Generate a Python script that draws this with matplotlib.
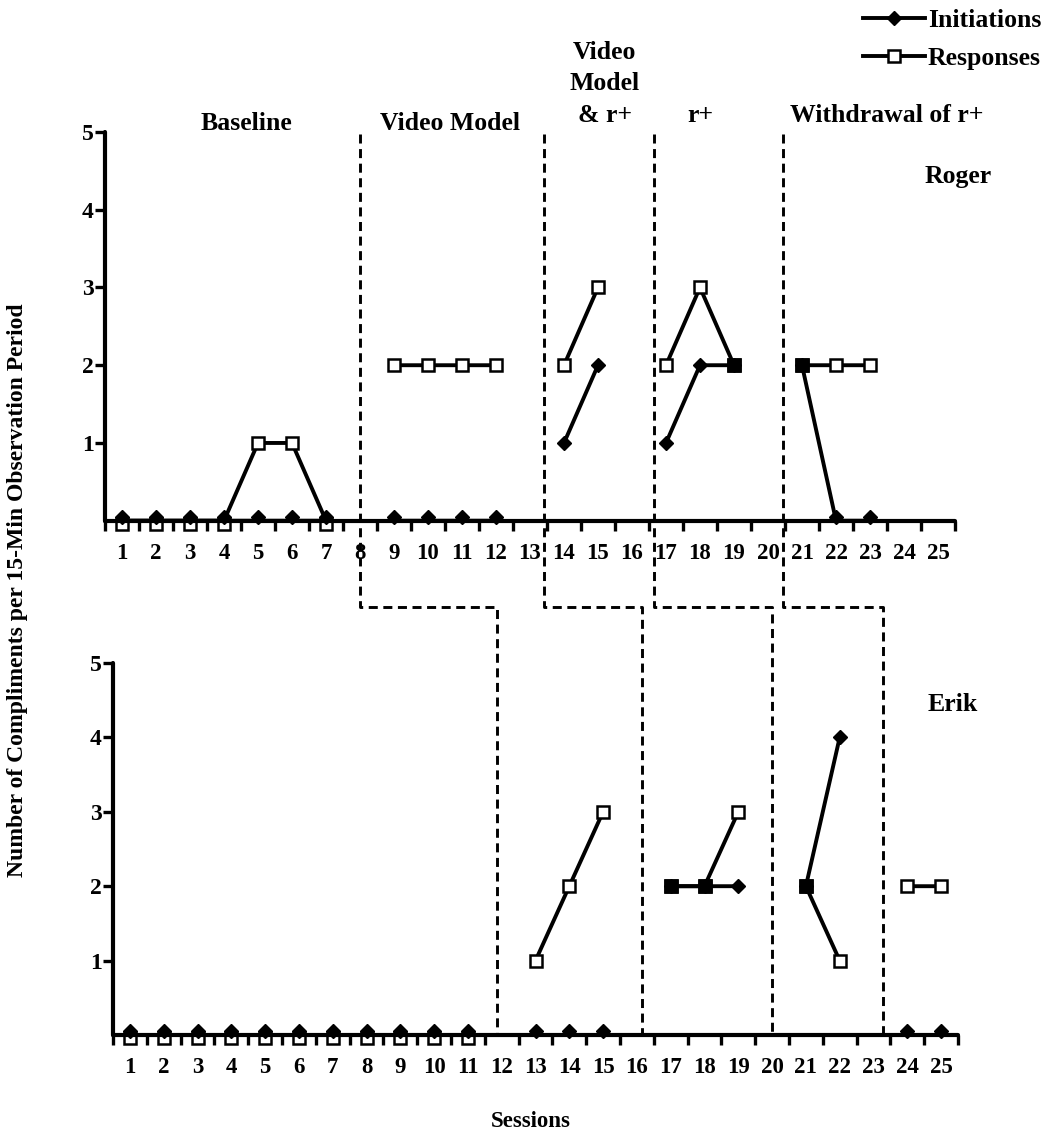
import numpy as np
import matplotlib
matplotlib.use("Agg")
import matplotlib.pyplot as plt
from matplotlib.lines import Line2D
from matplotlib.transforms import ScaledTranslation

plt.rcParams['font.family'] = ['Liberation Serif', 'DejaVu Serif']
plt.rcParams['font.weight'] = 'bold'
plt.rcParams['lines.scale_dashes'] = False

nan = np.nan
sessions = np.arange(1, 26)
session_labels = [str(s) for s in sessions]
y_ticks = [1, 2, 3, 4, 5]

roger_initiations = [0, 0, 0, 0, 0, 0, 0, nan, 0, 0, 0, 0, nan, 1, 2, nan,
                     1, 2, 2, nan, 2, 0, 0, nan, nan]
roger_responses = [0, 0, 0, 0, 1, 1, 0, nan, 2, 2, 2, 2, nan, 2, 3, nan,
                   2, 3, 2, nan, 2, 2, 2, nan, nan]
erik_initiations = [0, 0, 0, 0, 0, 0, 0, 0, 0, 0, 0, nan, 0, 0, 0, nan,
                    2, 2, 2, nan, 2, 4, nan, 0, 0]
erik_responses = [0, 0, 0, 0, 0, 0, 0, 0, 0, 0, 0, nan, 1, 2, 3, nan,
                  2, 2, 3, nan, 2, 1, nan, 2, 2]

roger_phase_changes = [8.0, 13.4, 16.65, 20.45]
erik_phase_changes = [11.87, 16.15, 20.0, 23.28]

phase_labels = ['Baseline', 'Video Model', 'Video\nModel\n& r+', 'r+', 'Withdrawal of r+']
series_names = ['Initiations', 'Responses']
participants = ['Roger', 'Erik']

W, H = 1046, 1131
fig = plt.figure(figsize=(W / 100, H / 100), dpi=100)
ax_top = fig.add_axes([105 / W, 1 - 520.7 / H, 850 / W, (520.7 - 132) / H])
ax_bot = fig.add_axes([113 / W, 1 - 1035 / H, 845 / W, (1035 - 663) / H])

LW = 2.8
SQ = dict(marker='s', ms=9, mfc='white', mec='black', mew=1.8)
DI = dict(marker='D', ms=7.5, mfc='black', mec='black', mew=1.0)


def style(ax):
    ax.set_xlim(0.5, 25.5)
    ax.set_ylim(0, 5)
    for s in ['top', 'right']:
        ax.spines[s].set_visible(False)
    for s in ['left', 'bottom']:
        ax.spines[s].set_linewidth(3)
        ax.spines[s].set_capstyle('round')
    ax.set_xticks(sessions)
    ax.set_xticklabels(session_labels)
    ax.set_xticks(np.arange(0.5, 26, 1), minor=True)
    ax.tick_params(axis='x', which='major', length=0, pad=16, labelsize=16.5)
    ax.tick_params(axis='x', which='minor', length=7, width=2.4, direction='out')
    ax.set_yticks(y_ticks)
    ax.set_yticklabels([str(v) for v in y_ticks])
    ax.tick_params(axis='y', which='major', length=7, width=2.4, direction='out',
                   pad=1, labelsize=17)
    for lab in ax.get_xticklabels() + ax.get_yticklabels():
        lab.set_fontweight('bold')


def draw(ax, ini, resp):
    ini = np.array(ini, dtype=float)
    resp = np.array(resp, dtype=float)
    up = ax.transData + ScaledTranslation(0, 4 / 100, fig.dpi_scale_trans)
    dn = ax.transData + ScaledTranslation(0, -3 / 100, fig.dpi_scale_trans)
    ax.plot(sessions, resp, color='black', lw=LW, zorder=2, clip_on=False)
    ax.plot(sessions, ini, color='black', lw=LW, zorder=2, clip_on=False)
    z_r = resp == 0
    nz_r = resp > 0
    z_i = ini == 0
    nz_i = ini > 0
    ax.plot(sessions[z_r], resp[z_r], ls='none', transform=dn, zorder=2.1,
            clip_on=False, **SQ)
    ax.plot(sessions[nz_r], resp[nz_r], ls='none', zorder=2.1, clip_on=False, **SQ)
    ax.plot(sessions[z_i], ini[z_i], ls='none', transform=up, zorder=2.2,
            clip_on=False, **DI)
    ax.plot(sessions[nz_i], ini[nz_i], ls='none', zorder=2.2, clip_on=False, **DI)
    both = (ini == resp) & (ini > 0)
    ax.plot(sessions[both], resp[both], ls='none', marker='s', ms=9, mfc='black',
            mec='black', mew=1.8, zorder=2.3, clip_on=False)


style(ax_top)
style(ax_bot)
draw(ax_top, roger_initiations, roger_responses)
draw(ax_bot, erik_initiations, erik_responses)

# phase labels
FS = 18.5
ax_top.text(4.66, 5.02, phase_labels[0], ha='center', va='baseline', fontsize=FS,
            fontweight='bold', clip_on=False)
ax_top.text(10.65, 5.02, phase_labels[1], ha='center', va='baseline', fontsize=FS,
            fontweight='bold', clip_on=False)
ax_top.text(15.2, 5.13, phase_labels[2], ha='center', va='baseline', fontsize=FS,
            fontweight='bold', linespacing=1.48, multialignment='center',
            clip_on=False)
ax_top.text(18.0, 5.13, phase_labels[3], ha='center', va='baseline', fontsize=FS,
            fontweight='bold', clip_on=False)
ax_top.text(23.5, 5.13, phase_labels[4], ha='center', va='baseline', fontsize=FS,
            fontweight='bold', clip_on=False)

ax_top.text(25.59, 4.34, participants[0], ha='center', va='baseline', fontsize=FS,
            fontweight='bold', clip_on=False)
ax_bot.text(25.35, 4.35, participants[1], ha='center', va='baseline', fontsize=FS,
            fontweight='bold', clip_on=False)

# dashed phase-change lines connecting both panels
to_fig = fig.transFigure.inverted()
for xt, xb in zip(roger_phase_changes, erik_phase_changes):
    p1 = ax_top.transData.transform((xt, 4.97))
    p2 = ax_top.transData.transform((xt, -1.11))
    p4 = ax_bot.transData.transform((xb, 0.02))
    p3 = (p4[0], p2[1])
    pts = to_fig.transform(np.array([p1, p2, p3, p4]))
    fig.add_artist(Line2D(pts[:, 0], pts[:, 1], transform=fig.transFigure,
                          color='black', lw=2.1, ls=(0, (6.5, 4.0)), zorder=5))

# axis titles
fig.text(531 / W, 1 - 1127 / H, 'Sessions', ha='center', va='baseline',
         fontsize=16.5, fontweight='bold')
fig.text(18 / W, 1 - 590 / H, 'Number of Compliments per 15-Min Observation Period',
         ha='center', va='center', rotation=90, fontsize=17, fontweight='bold')

# legend
handles = [Line2D([], [], color='black', lw=LW, **DI),
           Line2D([], [], color='black', lw=LW, **SQ)]
fig.legend(handles, series_names, loc='upper left',
           bbox_to_anchor=(863 / W, 1 - 9 / H), frameon=False,
           handlelength=2.4, handletextpad=0.12, labelspacing=0.58,
           borderpad=0, borderaxespad=0, prop={'weight': 'bold', 'size': 18.5})

fig.savefig('out.png', dpi=100)
